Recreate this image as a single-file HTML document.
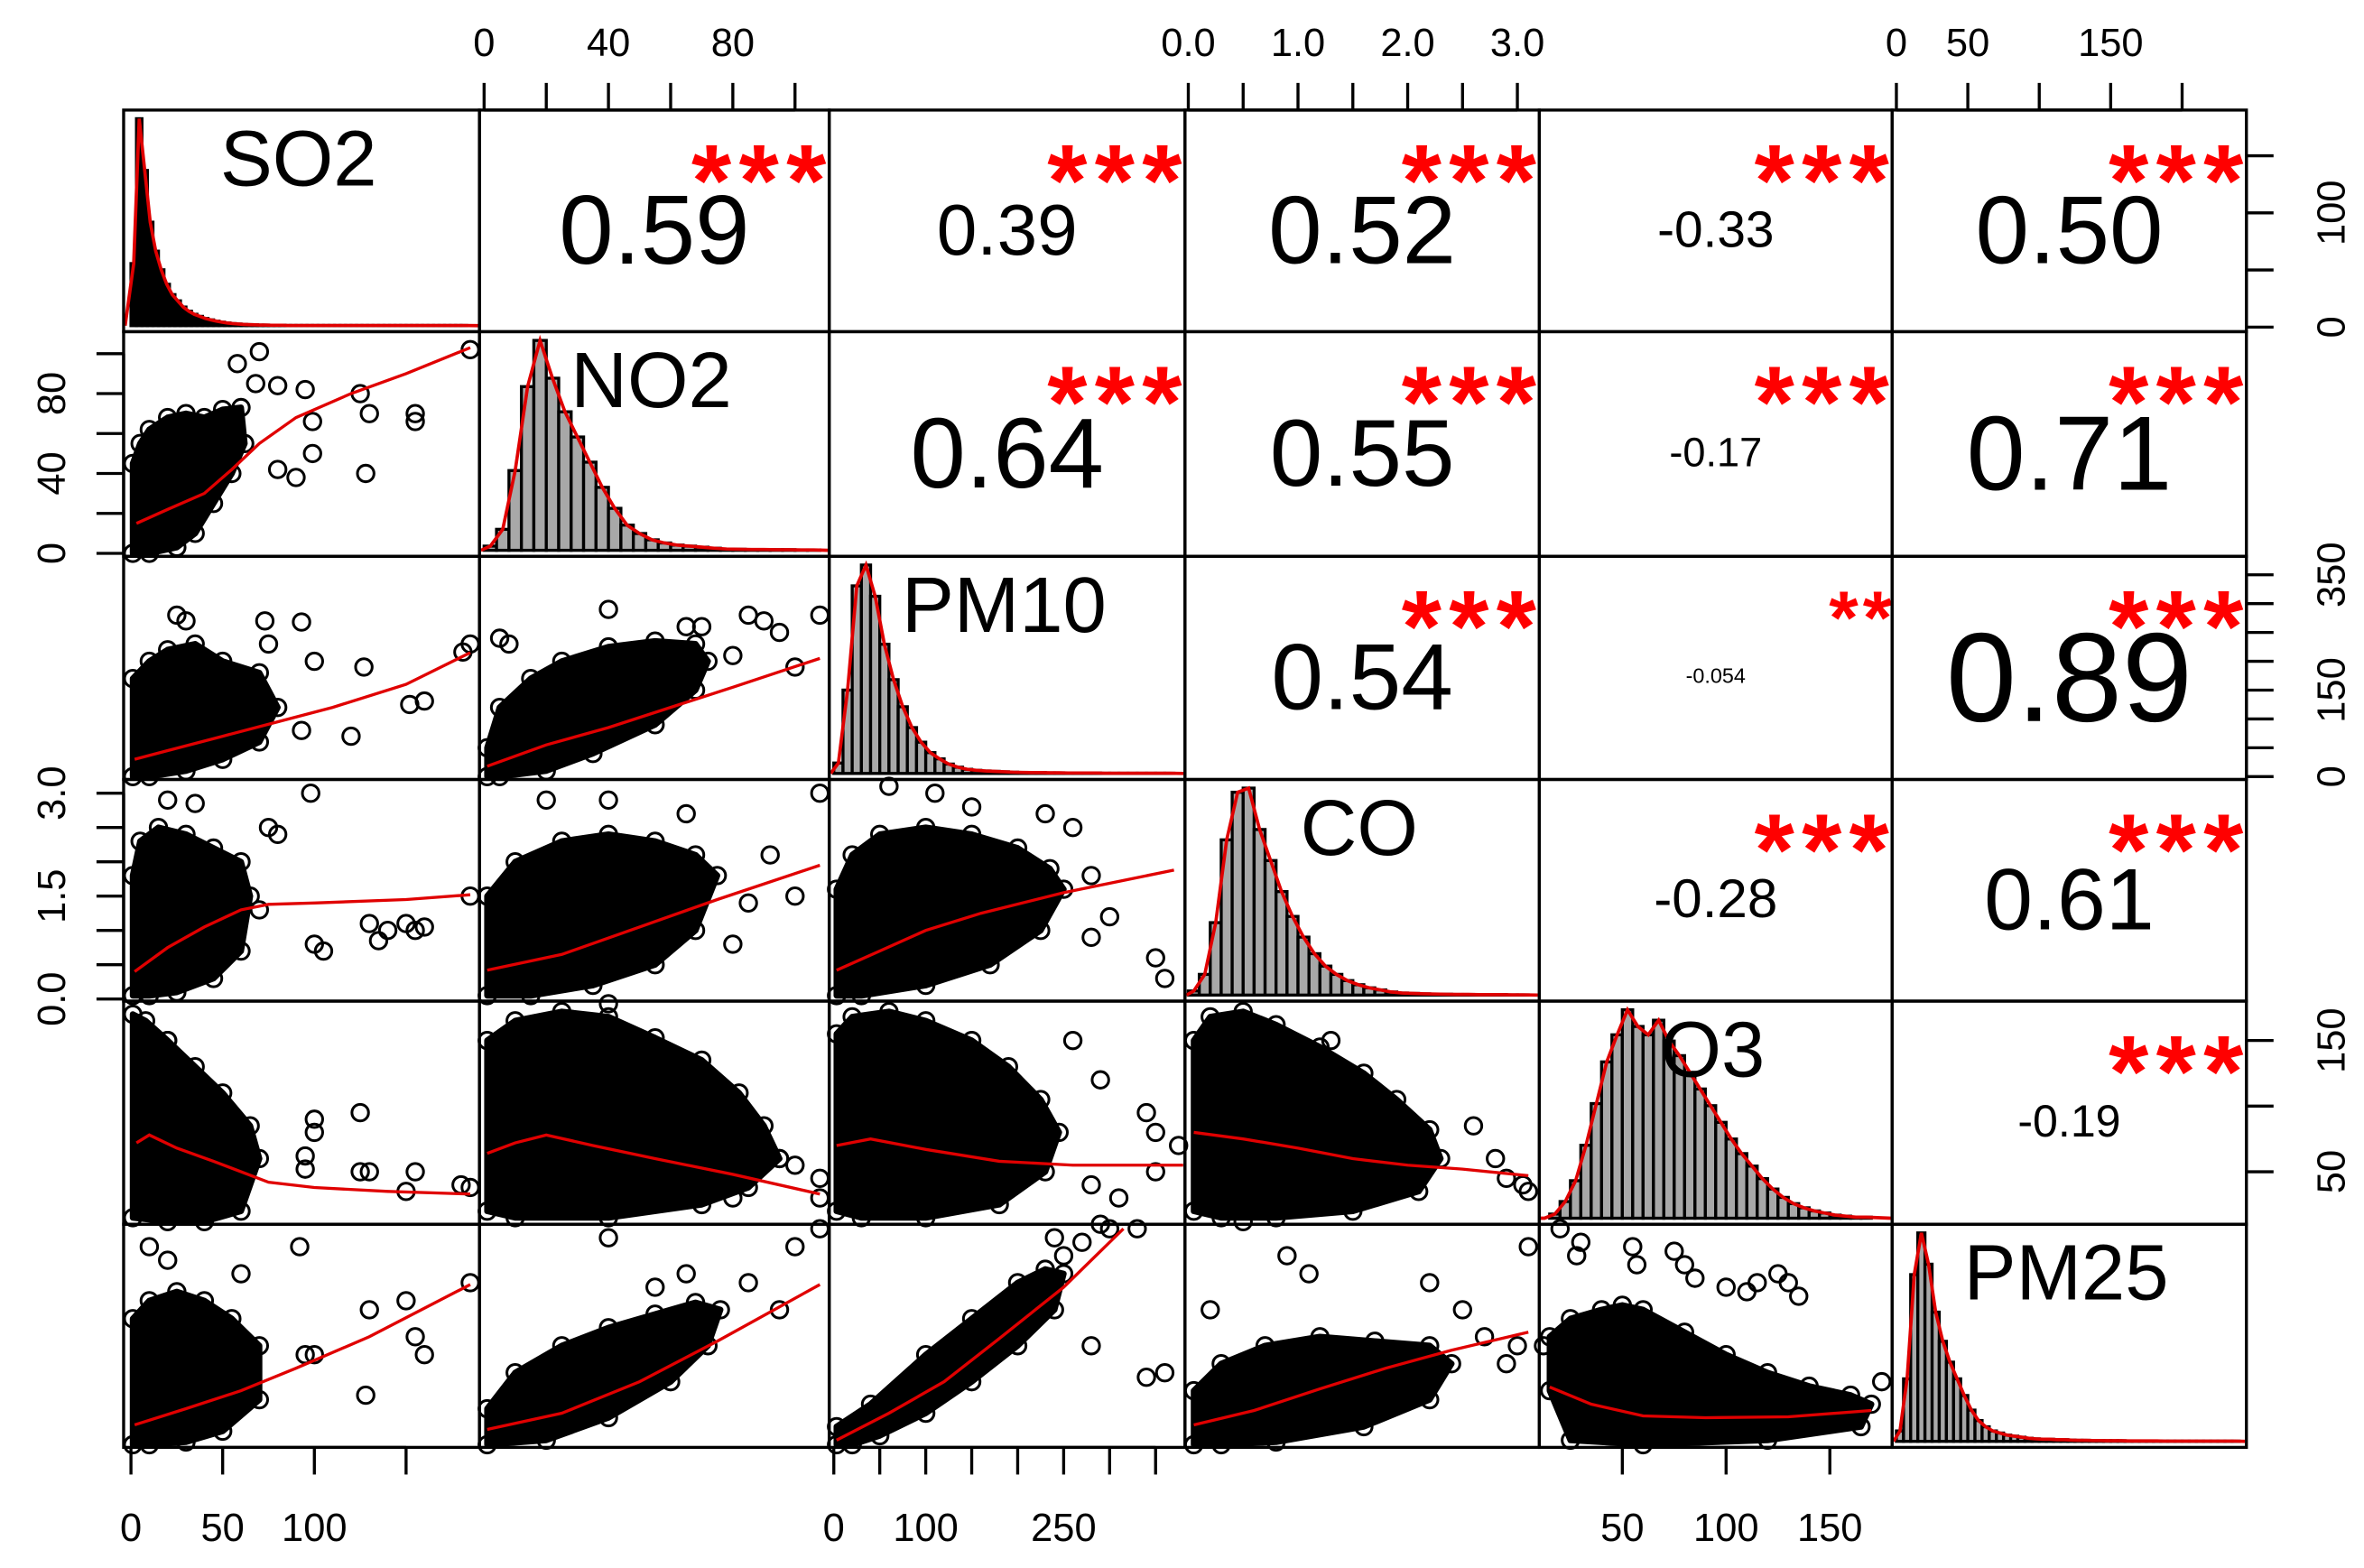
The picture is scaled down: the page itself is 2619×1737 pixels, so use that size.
<!DOCTYPE html>
<html><head><meta charset="utf-8"><title>Correlation matrix</title>
<style>html,body{margin:0;padding:0;background:#fff;}svg{display:block;font-family:"Liberation Sans",sans-serif;}</style>
</head><body>
<svg id="chart" width="2619" height="1737" viewBox="0 0 1568 1040" preserveAspectRatio="none" xmlns="http://www.w3.org/2000/svg">
<rect x="0" y="0" width="1568" height="1040" fill="#fff"/>
</svg>
<script>
const vars = ['SO2','NO2','PM10','CO','O3','PM25'];
const ranges = [[-4,190],[-1.5,111],[-5,382],[-0.03,3.2],[10,180],[-3,245]];

const histSO2Start = 0, histSO2Width = 3;
const histSO2 = [0.3,1.0,0.75,0.5,0.36,0.27,0.2,0.15,0.12,0.09,0.07,0.055,0.045,0.035,0.028,0.022,0.017,0.013,0.01,0.008,0.006,0.005,0.004,0.003,0.003,0.002,0.002,0.002,0.001,0.001,0.001,0.001,0.001,0.001,0.001,0.001,0.001,0.001,0.001,0.001,0.001,0.001,0.001,0.001,0.001,0.001,0.001,0.001,0.001,0.001,0.001,0.001,0.001,0.001,0.001,0.001,0.001,0.001,0.001,0.001,0.001];
const histNO2Start = 0, histNO2Width = 4;
const histNO2 = [0.02,0.1,0.38,0.78,1.0,0.82,0.66,0.54,0.42,0.3,0.2,0.12,0.08,0.05,0.035,0.025,0.02,0.015,0.01,0.006,0.005,0.004,0.004,0.003,0.003,0.002,0.002];
const histPM10Start = 0, histPM10Width = 10;
const histPM10 = [0.05,0.4,0.9,1.0,0.85,0.62,0.45,0.32,0.22,0.15,0.1,0.07,0.045,0.03,0.02,0.015,0.012,0.01,0.008,0.006,0.005,0.004,0.004,0.003,0.003,0.002,0.002,0.002,0.002,0.001,0.001,0.001,0.001,0.001,0.001,0.001,0.001];
const histCOStart = 0, histCOWidth = 0.1;
const histCO = [0.02,0.1,0.35,0.75,0.98,1.0,0.8,0.65,0.5,0.38,0.28,0.2,0.14,0.1,0.07,0.05,0.035,0.025,0.015,0.01,0.008,0.006,0.005,0.004,0.003,0.003,0.002,0.002,0.002,0.001,0.001];
const histO3Start = 10, histO3Width = 5;
const histO3 = [0.0,0.02,0.08,0.18,0.35,0.55,0.75,0.88,1.0,0.92,0.88,0.95,0.85,0.78,0.7,0.62,0.54,0.46,0.38,0.31,0.25,0.19,0.14,0.1,0.07,0.05,0.035,0.025,0.015,0.01,0.005,0.005];
const histPM25Start = 0, histPM25Width = 5;
const histPM25 = [0.05,0.3,0.8,1.0,0.85,0.62,0.48,0.38,0.3,0.22,0.15,0.1,0.07,0.05,0.04,0.03,0.025,0.02,0.015,0.012,0.01,0.01,0.008,0.008,0.006,0.005,0.005,0.004,0.004,0.003,0.003,0.003,0.002,0.002,0.002,0.002,0.002,0.001,0.001,0.001,0.001,0.001,0.001,0.001,0.001,0.001,0.001,0.001];

const corrValues = ['0.59','0.39','0.52','-0.33','0.50','0.64','0.55','-0.17','0.71','0.54','-0.054','0.89','-0.28','0.61','-0.19'];
const corrStars = ['***','***','***','***','***','***','***','***','***','***','**','***','***','***','***'];
const corrFontSizes = [65,48,64,34,64,66,63,27,70,62,14,84,36,58,30];

const cloudNO2vsSO2 = [[1,0],[1,45],[5,55],[10,62],[20,68],[30,70],[40,68],[50,72],[60,73],[62,55],[55,40],[45,25],[35,10],[25,3],[10,0]];
const outNO2vsSO2 = [[70,101],[58,95],[68,85],[80,84],[95,82],[99,66],[80,42],[90,38],[99,50],[125,80],[130,70],[128,40],[155,70],[155,66],[185,102]];
const loessNO2vsSO2 = [[3,15],[20,22],[40,30],[55,42],[70,55],[90,68],[120,80],[150,90],[185,103]];

const cloudPM10vsSO2 = [[1,0],[1,170],[10,200],[20,220],[35,230],[50,200],[70,180],[80,120],[70,60],[50,30],[30,10],[10,0]];
const outPM10vsSO2 = [[25,280],[30,270],[73,270],[93,268],[75,230],[100,200],[127,190],[152,125],[160,131],[181,216],[93,80],[120,70],[185,230]];
const loessPM10vsSO2 = [[2,30],[20,45],[50,70],[80,95],[110,120],[150,160],[185,215]];

const cloudCOvsSO2 = [[1,0.05],[1,1.8],[5,2.3],[15,2.5],[30,2.4],[45,2.2],[60,2.0],[65,1.5],[60,0.7],[45,0.3],[25,0.1],[10,0.05]];
const outCOvsSO2 = [[20,2.9],[35,2.85],[75,2.5],[80,2.4],[98,3.0],[100,0.8],[105,0.7],[130,1.1],[135,0.85],[150,1.1],[155,1.0],[160,1.05],[185,1.5],[140,1.0],[70,1.3]];
const loessCOvsSO2 = [[2,0.4],[20,0.75],[40,1.05],[60,1.3],[75,1.38],[100,1.4],[150,1.45],[185,1.52]];

const cloudO3vsSO2 = [[1,15],[1,170],[8,165],[20,150],[35,130],[50,110],[65,85],[70,60],[60,20],[40,12],[20,12]];
const outO3vsSO2 = [[20,150],[100,90],[100,80],[95,62],[95,52],[125,95],[125,50],[130,50],[155,50],[150,35],[180,40],[185,38]];
const loessO3vsSO2 = [[3,72],[10,78],[25,68],[45,58],[75,42],[100,38],[140,35],[185,33]];

const cloudPM25vsSO2 = [[1,0],[1,140],[10,160],[25,170],[40,160],[55,140],[70,110],[70,50],[50,15],[30,3],[10,0]];
const outPM25vsSO2 = [[10,220],[60,190],[92,220],[100,100],[95,100],[128,55],[130,150],[150,160],[155,120],[160,100],[185,180],[20,205]];
const loessPM25vsSO2 = [[2,22],[30,40],[60,60],[90,85],[130,120],[185,178]];

const cloudPM10vsNO2 = [[1,0],[1,50],[5,120],[15,170],[25,200],[40,225],[55,235],[68,230],[72,200],[68,150],[55,90],[35,40],[20,10],[5,0]];
const outPM10vsNO2 = [[40,290],[70,260],[85,280],[90,270],[95,250],[108,280],[100,190],[80,210],[5,240],[8,230],[65,260]];
const loessPM10vsNO2 = [[1,18],[20,55],[40,85],[60,120],[80,155],[108,205]];

const cloudCOvsNO2 = [[1,0.05],[1,1.5],[10,2.0],[25,2.3],[40,2.4],[55,2.3],[68,2.1],[75,1.8],[68,1.0],[55,0.5],[35,0.2],[15,0.05]];
const outCOvsNO2 = [[20,2.9],[40,2.9],[92,2.1],[100,1.5],[108,3.0],[85,1.4],[65,2.7],[80,0.8]];
const loessCOvsNO2 = [[1,0.42],[25,0.65],[50,1.05],[75,1.45],[108,1.95]];

const cloudO3vsNO2 = [[1,20],[1,150],[10,165],[25,172],[40,168],[55,152],[70,135],[82,110],[90,85],[95,60],[85,38],[70,25],[40,15],[10,15]];
const outO3vsNO2 = [[40,178],[90,70],[95,60],[100,55],[108,45],[108,30],[80,30]];
const loessO3vsNO2 = [[1,64],[10,72],[20,78],[35,70],[55,60],[80,48],[108,33]];

const cloudPM25vsNO2 = [[1,0],[1,40],[10,80],[25,110],[40,130],[55,145],[68,158],[76,150],[72,110],[60,70],[40,30],[20,5]];
const outPM25vsNO2 = [[40,230],[55,175],[85,180],[100,220],[108,240],[95,150],[65,190]];
const loessPM25vsNO2 = [[1,17],[25,35],[50,70],[75,115],[108,178]];

const cloudCOvsPM10 = [[3,0.05],[3,1.6],[20,2.1],[50,2.4],[100,2.5],[150,2.4],[200,2.2],[235,1.9],[250,1.6],[225,1.0],[170,0.5],[100,0.2],[30,0.05]];
const outCOvsPM10 = [[150,2.8],[230,2.7],[260,2.5],[280,1.8],[300,1.2],[350,0.6],[360,0.3],[280,0.9],[60,3.1],[110,3.0]];
const loessCOvsPM10 = [[3,0.42],[50,0.7],[100,1.0],[160,1.25],[250,1.55],[370,1.88]];

const cloudO3vsPM10 = [[3,20],[3,155],[20,168],[60,172],[100,165],[150,150],[190,130],[225,105],[245,80],[230,50],[180,25],[100,15],[30,15]];
const outO3vsPM10 = [[260,150],[290,120],[340,95],[350,80],[375,70],[310,30],[280,40],[350,50]];
const loessO3vsPM10 = [[3,70],[40,75],[100,67],[180,58],[260,55],[380,55]];

const cloudPM25vsPM10 = [[3,0],[3,20],[40,45],[100,100],[150,140],[200,180],[230,195],[250,190],[240,150],[200,110],[150,70],[100,35],[50,10],[20,0]];
const outPM25vsPM10 = [[250,210],[270,225],[290,245],[300,240],[330,240],[240,230],[280,110],[340,75],[360,80]];
const loessPM25vsPM10 = [[3,5],[60,35],[120,70],[180,118],[250,175],[315,240]];

const cloudO3vsCO = [[0.05,20],[0.05,150],[0.2,168],[0.5,172],[0.8,162],[1.2,145],[1.6,125],[1.9,105],[2.2,82],[2.3,60],[2.1,35],[1.5,20],[0.8,15],[0.3,15]];
const outO3vsCO = [[1.3,150],[2.6,85],[2.8,60],[2.9,45],[3.05,40],[3.1,35],[0.5,12]];
const loessO3vsCO = [[0.05,80],[0.5,75],[1.0,68],[1.5,60],[2.0,55],[2.5,52],[3.1,47]];

const cloudPM25vsCO = [[0.05,0],[0.05,60],[0.3,90],[0.7,110],[1.2,120],[1.7,115],[2.2,110],[2.4,90],[2.2,50],[1.6,20],[0.8,3],[0.3,0]];
const outPM25vsCO = [[0.9,210],[1.1,190],[2.2,180],[2.5,150],[2.7,120],[3.0,110],[3.1,220],[2.9,90],[0.2,150]];
const loessPM25vsCO = [[0.05,22],[0.6,38],[1.2,62],[1.8,85],[2.4,105],[3.1,125]];

const cloudPM25vsO3 = [[15,60],[15,120],[25,140],[40,150],[50,155],[60,150],[80,125],[100,100],[120,80],[140,65],[160,55],[170,45],[165,20],[120,5],[60,0],[25,5]];
const outPM25vsO3 = [[20,240],[30,225],[28,210],[55,220],[57,200],[75,215],[80,200],[85,185],[100,175],[110,170],[115,180],[125,190],[130,180],[135,165],[175,70],[12,110]];
const loessPM25vsO3 = [[15,64],[35,45],[60,32],[90,30],[130,31],[170,38]];

const ticksSO2 = [0,50,100,150], labelsSO2Bottom = ['0','50','100',''], labelsSO2Right = ['0','','100',''];
const ticksNO2 = [0,20,40,60,80,100], labelsNO2 = ['0','','40','','80',''];
const ticksPM10 = [0,50,100,150,200,250,300,350], labelsPM10Bottom = ['0','','100','','','250','',''], labelsPM10Right = ['0','','','150','','','','350'];
const ticksCO = [0,0.5,1,1.5,2,2.5,3], labelsCOTop = ['0.0','','1.0','','2.0','','3.0'], labelsCOLeft = ['0.0','','','1.5','','','3.0'];
const ticksO3 = [50,100,150], labelsO3Bottom = ['50','100','150'], labelsO3Right = ['50','','150'];
const ticksPM25 = [0,50,100,150,200], labelsPM25 = ['0','50','','150',''];

const svg = document.getElementById('chart');
const NS = 'http://www.w3.org/2000/svg';
const XE = [82,318,550,786,1021,1255,1490];
const YE = [73,220,369,517,664,812,960];
function sx(v,j){const r=ranges[j];return XE[j]+(v-r[0])/(r[1]-r[0])*(XE[j+1]-XE[j]);}
function sy(v,i){const r=ranges[i];return YE[i+1]-(v-r[0])/(r[1]-r[0])*(YE[i+1]-YE[i]);}
function mk(tag,attrs,parent){const e=document.createElementNS(NS,tag);for(const k in attrs)e.setAttribute(k,attrs[k]);(parent||svg).appendChild(e);return e;}

const hists = [[histSO2Start,histSO2Width,histSO2],[histNO2Start,histNO2Width,histNO2],[histPM10Start,histPM10Width,histPM10],[histCOStart,histCOWidth,histCO],[histO3Start,histO3Width,histO3],[histPM25Start,histPM25Width,histPM25]];
hists.forEach((h,k)=>{
  const [start,w,counts]=h;
  const base=YE[k+1]-4, hmax=(YE[k+1]-YE[k]-4)*0.96;
  const g=mk('g',{});
  
  
  const pts=[[XE[k]+1,base]];
  counts.forEach((c,b)=>{
    const x0=sx(start+b*w,k), x1=sx(start+(b+1)*w,k);
    if(c>0){
      const bar=mk('rect',{x:x0,y:base-c*hmax,width:Math.max(0.5,x1-x0),height:c*hmax,fill:(k===0?'#000':'#a8a8a8'),stroke:'#000','stroke-width':2},g);
      
      
    }
    pts.push([(x0+x1)/2,base-c*hmax]);
  });
  pts.push([XE[k+1]-1,base]);
  const dl=mk('polyline',{points:pts.map(p=>p.join(',')).join(' '),fill:'none',stroke:'#e00000','stroke-width':2.2},g);
  
  
  const lbl=mk('text',{x:(XE[k]+XE[k+1])/2-2,y:YE[k]+50,'font-size':52,'text-anchor':'middle',fill:'#000'},g);
  lbl.textContent=vars[k];
  
  
});

const scatterPanels = [
 [1,0,cloudNO2vsSO2,outNO2vsSO2,loessNO2vsSO2],
 [2,0,cloudPM10vsSO2,outPM10vsSO2,loessPM10vsSO2],
 [3,0,cloudCOvsSO2,outCOvsSO2,loessCOvsSO2],
 [4,0,cloudO3vsSO2,outO3vsSO2,loessO3vsSO2],
 [5,0,cloudPM25vsSO2,outPM25vsSO2,loessPM25vsSO2],
 [2,1,cloudPM10vsNO2,outPM10vsNO2,loessPM10vsNO2],
 [3,1,cloudCOvsNO2,outCOvsNO2,loessCOvsNO2],
 [4,1,cloudO3vsNO2,outO3vsNO2,loessO3vsNO2],
 [5,1,cloudPM25vsNO2,outPM25vsNO2,loessPM25vsNO2],
 [3,2,cloudCOvsPM10,outCOvsPM10,loessCOvsPM10],
 [4,2,cloudO3vsPM10,outO3vsPM10,loessO3vsPM10],
 [5,2,cloudPM25vsPM10,outPM25vsPM10,loessPM25vsPM10],
 [4,3,cloudO3vsCO,outO3vsCO,loessO3vsCO],
 [5,3,cloudPM25vsCO,outPM25vsCO,loessPM25vsCO],
 [5,4,cloudPM25vsO3,outPM25vsO3,loessPM25vsO3]
];
scatterPanels.forEach(p=>{
  const [i,j,cloud,out,loess]=p;
  const g=mk('g',{});
  
  
  const poly=mk('polygon',{points:cloud.map(d=>sx(d[0],j)+','+sy(d[1],i)).join(' '),fill:'#000',stroke:'#000','stroke-width':4,'stroke-linejoin':'round'},g);
  
  
  cloud.concat(out).forEach(d=>{
    const c=mk('circle',{cx:sx(d[0],j),cy:sy(d[1],i),r:5.5,fill:'none',stroke:'#000','stroke-width':1.8},g);
    
    
  });
  const ln=mk('polyline',{points:loess.map(d=>sx(d[0],j)+','+sy(d[1],i)).join(' '),fill:'none',stroke:'#e00000','stroke-width':2},g);
  
  
});

let ci=0;
for(let i=0;i<6;i++){for(let j=i+1;j<6;j++){
  const cx=(XE[j]+XE[j+1])/2, cy=(YE[i]+YE[i+1])/2;
  const fs=corrFontSizes[ci];
  const t=mk('text',{x:cx,y:cy+fs*0.36+5,'font-size':fs,'text-anchor':'middle',fill:'#000'});
  t.textContent=corrValues[ci];
  
  
  const st=corrStars[ci];
  const three=st.length===3;
  const s=mk('text',{x:XE[j+1]+3,y:YE[i]+(three?70:58),'font-size':(three?68:50),'font-weight':'bold','text-anchor':'end',fill:'#ff0000','letter-spacing':(three?5:3)});
  s.textContent=st;
  
  
  ci++;
}}

for(let i=0;i<6;i++){for(let j=0;j<6;j++){
  const r=mk('rect',{x:XE[j],y:YE[i],width:XE[j+1]-XE[j],height:YE[i+1]-YE[i],fill:'none',stroke:'#000','stroke-width':2});
  
  
}}

function axisX(j,ticks,labels,side){
  const g=mk('g',{});
  
  
  const y0=side==='top'?YE[0]:YE[6], dir=side==='top'?-1:1;
  const xs=ticks.map(v=>sx(v,j));
  mk('line',{x1:xs[0],x2:xs[xs.length-1],y1:y0,y2:y0,stroke:'#000','stroke-width':2},g);
  ticks.forEach((v,k)=>{
    mk('line',{x1:xs[k],x2:xs[k],y1:y0,y2:y0+dir*18,stroke:'#000','stroke-width':2},g);
    if(labels[k]){
      const t=mk('text',{x:xs[k],y:side==='top'?37:1022,'font-size':26,'text-anchor':'middle',fill:'#000'},g);
      t.textContent=labels[k];
      
      
    }
  });
}
function axisY(i,ticks,labels,side){
  const g=mk('g',{});
  
  
  const x0=side==='left'?XE[0]:XE[6], dir=side==='left'?-1:1;
  const ys=ticks.map(v=>sy(v,i));
  mk('line',{x1:x0,x2:x0,y1:ys[0],y2:ys[ys.length-1],stroke:'#000','stroke-width':2},g);
  ticks.forEach((v,k)=>{
    mk('line',{x1:x0,x2:x0+dir*18,y1:ys[k],y2:ys[k],stroke:'#000','stroke-width':2},g);
    if(labels[k]){
      const lx=side==='left'?43:1555;
      const t=mk('text',{x:lx,y:ys[k],'font-size':26,'text-anchor':'middle',fill:'#000',transform:'rotate(-90 '+lx+' '+ys[k]+')'},g);
      t.textContent=labels[k];
      
      
    }
  });
}
axisX(1,ticksNO2,labelsNO2,'top');
axisX(3,ticksCO,labelsCOTop,'top');
axisX(5,ticksPM25,labelsPM25,'top');
axisX(0,ticksSO2,labelsSO2Bottom,'bottom');
axisX(2,ticksPM10,labelsPM10Bottom,'bottom');
axisX(4,ticksO3,labelsO3Bottom,'bottom');
axisY(1,ticksNO2,labelsNO2,'left');
axisY(3,ticksCO,labelsCOLeft,'left');
axisY(0,ticksSO2,labelsSO2Right,'right');
axisY(2,ticksPM10,labelsPM10Right,'right');
axisY(4,ticksO3,labelsO3Right,'right');
</script>
</body></html>
